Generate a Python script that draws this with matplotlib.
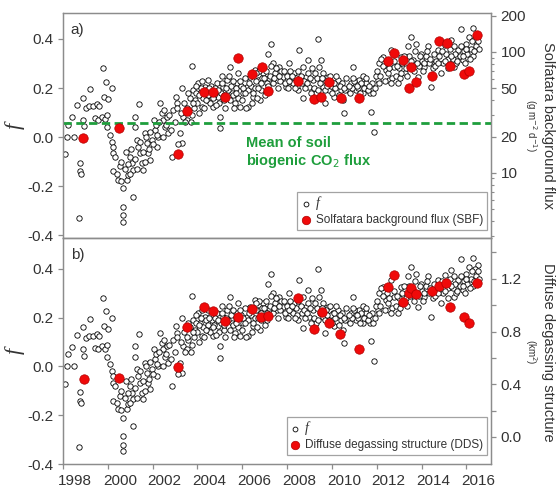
import matplotlib
matplotlib.use("Agg")
import matplotlib.pyplot as plt
from matplotlib.transforms import ScaledTranslation
from matplotlib.ticker import FixedLocator, NullFormatter

plt.rcParams['font.family'] = ['Liberation Sans', 'DejaVu Sans']

# f index (same series in both panels): decimal year, value
f_year = [1998.09, 1998.16, 1998.49, 1998.24, 1998.39, 1998.61, 1998.76, 1998.76, 1998.80, 1998.73,
          1998.88, 1998.90, 1998.95, 1999.03, 1999.18, 1999.20, 1999.35, 1999.53, 1999.62, 1999.43,
          1999.58, 1999.73, 1999.88, 1999.95, 1999.80, 1999.92, 1999.83, 2000.02, 2000.17, 1999.98,
          2000.10, 2000.17, 2000.25, 2000.22, 2000.32, 2000.25, 2000.40, 2000.47, 2000.57, 2000.69,
          2000.66, 2000.66, 2000.66, 2000.84, 2000.92, 2000.99, 2001.07, 2001.14, 2001.14, 2001.21,
          2001.21, 2001.41, 2001.29, 2001.36, 2001.44, 2001.51, 2001.59, 2001.66, 2001.74, 2001.81,
          2001.88, 2001.96, 2002.06, 2002.11, 2002.18, 2002.26, 2002.33, 2002.40, 2002.48, 2002.55,
          2002.63, 2002.70, 2002.85, 2002.93, 2003.04, 2003.07, 2003.30, 2003.22, 2003.30, 2003.37,
          2003.52, 2003.60, 2003.74, 2003.74, 2003.82, 2003.89, 2004.04, 2004.12, 2004.19, 2004.34,
          2004.41, 2004.49, 2004.64, 2004.71, 2004.86, 2004.93, 2005.01, 2005.01, 2005.16, 2005.31,
          2005.46, 2005.53, 2005.68, 2005.75, 2005.83, 2005.90, 2006.05, 2006.20, 2006.27, 2006.35,
          2006.50, 2006.57, 2006.72, 2006.79, 2006.94, 2007.09, 2007.17, 2007.27, 2007.39, 2007.54,
          2007.66, 2007.81, 2007.96, 2008.10, 2008.18, 2008.33, 2008.48, 2008.55, 2008.70, 2008.70,
          2008.85, 2008.92, 2009.00, 2009.15, 2009.30, 2009.37, 2009.44, 2009.52, 2009.59, 2009.67,
          2009.82, 2009.89, 2010.04, 2010.11, 2010.26, 2010.41, 2010.49, 2010.56, 2010.71, 2010.86,
          2010.96, 2011.08, 2011.23, 2011.38, 2011.53, 2011.68, 2011.75, 2011.90, 2012.05, 2012.12,
          2012.27, 2012.42, 2012.57, 2012.64, 2012.79, 2012.94, 2013.09, 2013.24, 2013.39, 2013.54,
          2013.61, 2013.76, 2013.83, 2013.98, 2014.13, 2014.28, 2014.43, 2014.58, 2014.73, 2014.88,
          2015.03, 2015.17, 2015.32, 2015.47, 2015.62, 2015.77, 2015.84, 2015.99, 2016.14, 2016.29,
          2016.44, 2016.51]
f_val = [-0.07, 0.00, 0.00, 0.05, 0.08, 0.13, -0.105, -0.14, -0.15, -0.33,
         0.16, 0.07, 0.045, 0.117, 0.127, 0.195, 0.127, 0.135, 0.127, 0.076,
         0.07, 0.083, 0.073, 0.04, 0.28, 0.226, 0.165, 0.154, 0.20, 0.09,
         0.01, -0.02, -0.04, -0.067, -0.08, -0.14, -0.15, -0.175, -0.18, -0.21,
         -0.285, -0.32, -0.345, -0.175, -0.155, -0.08, -0.107, -0.135, -0.245, 0.083,
         0.04, 0.135, -0.012, -0.04, -0.067, -0.107, -0.135, 0.015, -0.026, -0.067,
         -0.094, -0.012, 0.07, 0.03, -0.04, 0.00, 0.137, 0.097, 0.07, 0.04,
         0.083, 0.015, -0.08, 0.11, 0.165, 0.137, 0.20, 0.015, -0.026, 0.083,
         0.07, 0.11, 0.09, 0.29, 0.19, 0.15, 0.22, 0.178, 0.124, 0.205,
         0.15, 0.233, 0.19, 0.124, 0.22, 0.165, 0.083, 0.035, 0.205, 0.233,
         0.287, 0.178, 0.137, 0.22, 0.26, 0.124, 0.178, 0.205, 0.124, 0.246,
         0.165, 0.273, 0.233, 0.15, 0.26, 0.22, 0.34, 0.38, 0.30, 0.233,
         0.287, 0.246, 0.205, 0.30, 0.226, 0.26, 0.19, 0.355, 0.287, 0.158,
         0.246, 0.314, 0.205, 0.233, 0.178, 0.40, 0.287, 0.314, 0.205, 0.137,
         0.246, 0.19, 0.22, 0.165, 0.233, 0.19, 0.15, 0.097, 0.19, 0.22,
         0.287, 0.19, 0.233, 0.178, 0.22, 0.178, 0.103, 0.022, 0.233, 0.30,
         0.328, 0.273, 0.233, 0.355, 0.287, 0.22, 0.328, 0.26, 0.37, 0.41,
         0.314, 0.38, 0.246, 0.34, 0.287, 0.37, 0.205, 0.30, 0.355, 0.26,
         0.375, 0.32, 0.396, 0.287, 0.355, 0.44, 0.314, 0.38, 0.41, 0.445,
         0.37, 0.416]

f_year_b = [2000.55, 2000.60, 2000.75, 2000.80, 2000.90, 2001.00, 2001.05, 2001.20, 2001.30, 2001.45,
            2001.55, 2001.65, 2001.70, 2001.85, 2001.90, 2002.00, 2002.15, 2002.20, 2002.30, 2002.45,
            2002.50, 2002.60, 2002.75, 2002.80, 2003.00, 2003.10, 2003.15, 2003.25, 2003.40, 2003.45,
            2003.55, 2003.65, 2003.70, 2003.85, 2003.95, 2004.00, 2004.05, 2004.15, 2004.25, 2004.30,
            2004.40, 2004.45, 2004.55, 2004.60, 2004.75, 2004.80, 2004.95, 2005.05, 2005.10, 2005.20,
            2005.25, 2005.35, 2005.40, 2005.50, 2005.60, 2005.65, 2005.70, 2005.80, 2005.95, 2006.00,
            2006.10, 2006.15, 2006.25, 2006.40, 2006.45, 2006.55, 2006.60, 2006.65, 2006.75, 2006.85,
            2006.90, 2007.00, 2007.05, 2007.15, 2007.20, 2007.30, 2007.35, 2007.45, 2007.60, 2007.70,
            2007.75, 2007.90, 2008.00, 2008.05, 2008.15, 2008.25, 2008.40, 2008.45, 2008.60, 2008.65,
            2008.80, 2008.95, 2009.05, 2009.10, 2009.20, 2009.35, 2009.45, 2009.60, 2009.70, 2009.75,
            2009.95, 2010.00, 2010.15, 2010.20, 2010.30, 2010.45, 2010.60, 2010.65, 2010.80, 2010.90,
            2011.00, 2011.15, 2011.30, 2011.40, 2011.45, 2011.60, 2011.80, 2011.85, 2011.95, 2012.00,
            2012.15, 2012.20, 2012.35, 2012.45, 2012.50, 2012.70, 2012.75, 2012.85, 2013.00, 2013.05,
            2013.15, 2013.30, 2013.45, 2013.50, 2013.65, 2013.70, 2013.90, 2014.00, 2014.05, 2014.20,
            2014.35, 2014.50, 2014.55, 2014.65, 2014.80, 2014.95, 2015.10, 2015.20, 2015.25, 2015.40,
            2015.50, 2015.55, 2015.70, 2015.90, 2015.95, 2016.05, 2016.20, 2016.30, 2016.40, 2016.55]
f_val_b = [-0.12, -0.10, -0.13, -0.06, -0.11, -0.15, -0.05, -0.09, -0.13, -0.02,
           -0.06, -0.10, 0.00, -0.05, 0.02, -0.03, 0.05, 0.01, 0.06, 0.00,
           0.11, 0.05, 0.09, 0.03, 0.06, 0.12, -0.03, 0.10, 0.14, 0.06,
           0.12, 0.16, 0.06, 0.12, 0.18, 0.14, 0.10, 0.20, 0.16, 0.12,
           0.19, 0.17, 0.14, 0.21, 0.17, 0.20, 0.14, 0.18, 0.22, 0.15,
           0.12, 0.19, 0.25, 0.21, 0.17, 0.12, 0.20, 0.16, 0.21, 0.15,
           0.24, 0.12, 0.19, 0.21, 0.14, 0.20, 0.23, 0.16, 0.27, 0.19,
           0.24, 0.17, 0.27, 0.21, 0.24, 0.29, 0.22, 0.26, 0.20, 0.23,
           0.27, 0.22, 0.25, 0.20, 0.27, 0.22, 0.24, 0.21, 0.25, 0.22,
           0.20, 0.26, 0.18, 0.28, 0.20, 0.24, 0.22, 0.26, 0.19, 0.23,
           0.21, 0.18, 0.20, 0.25, 0.17, 0.22, 0.19, 0.24, 0.18, 0.20,
           0.23, 0.20, 0.22, 0.25, 0.20, 0.19, 0.22, 0.18, 0.25, 0.27,
           0.25, 0.32, 0.23, 0.30, 0.26, 0.24, 0.31, 0.25, 0.28, 0.24,
           0.30, 0.28, 0.33, 0.29, 0.27, 0.35, 0.29, 0.31, 0.27, 0.33,
           0.30, 0.28, 0.34, 0.31, 0.33, 0.30, 0.34, 0.28, 0.36, 0.32,
           0.34, 0.30, 0.33, 0.35, 0.30, 0.34, 0.36, 0.33, 0.40, 0.36]

f_year_c = [2003.58, 2003.78, 2003.92, 2004.08, 2004.22, 2004.36, 2004.52, 2004.68, 2004.82, 2004.90,
            2005.08, 2005.18, 2005.28, 2005.45, 2005.58, 2005.72, 2005.88, 2006.02, 2006.12, 2006.32,
            2006.48, 2006.62, 2006.70, 2006.82, 2006.98, 2007.10, 2007.25, 2007.40, 2007.50, 2007.65,
            2007.85, 2008.08, 2008.20, 2008.35, 2008.50, 2008.75, 2008.88, 2009.02, 2009.25, 2009.40,
            2009.55, 2009.78, 2009.92, 2010.08, 2010.35, 2010.52, 2010.75, 2010.95, 2011.10, 2011.25,
            2011.50, 2011.65, 2011.92, 2012.10, 2012.30, 2012.55, 2012.65, 2012.90, 2013.10, 2013.20,
            2013.35, 2013.55, 2013.80, 2013.95, 2014.10, 2014.25, 2014.40, 2014.60, 2014.75, 2014.90,
            2015.05, 2015.30, 2015.45, 2015.60, 2015.75, 2015.85, 2016.00, 2016.15, 2016.25, 2016.35,
            2016.50]
f_val_c = [0.18, 0.14, 0.21, 0.17, 0.23, 0.15, 0.20, 0.16, 0.13, 0.19,
           0.25, 0.17, 0.20, 0.15, 0.23, 0.18, 0.23, 0.20, 0.18, 0.22,
           0.18, 0.26, 0.20, 0.22, 0.24, 0.19, 0.25, 0.24, 0.28, 0.25,
           0.27, 0.23, 0.25, 0.20, 0.27, 0.23, 0.22, 0.24, 0.26, 0.19,
           0.24, 0.21, 0.25, 0.22, 0.21, 0.20, 0.21, 0.24, 0.21, 0.18,
           0.24, 0.21, 0.20, 0.22, 0.29, 0.28, 0.22, 0.29, 0.26, 0.33,
           0.25, 0.31, 0.30, 0.33, 0.30, 0.35, 0.32, 0.29, 0.30, 0.35,
           0.31, 0.33, 0.37, 0.31, 0.37, 0.33, 0.36, 0.32, 0.39, 0.35,
           0.39]

# Solfatara background flux (g m-2 d-1)
campaign_year = [1998.91, 2000.51, 2003.15, 2003.52, 2004.29, 2004.68, 2005.25, 2005.80, 2006.42, 2006.87,
                 2007.17, 2008.48, 2009.22, 2009.52, 2009.89, 2010.41, 2011.20, 2012.50, 2012.75, 2013.16,
                 2013.51, 2013.42, 2013.76, 2014.46, 2014.76, 2015.13, 2015.25, 2015.89, 2016.11, 2016.48]
sbf = [19.4, 23.6, 14.3, 32.5, 46.5, 46.5, 42.5, 88.7, 65.8, 74.8,
       47.6, 57.5, 40.9, 42.3, 56.9, 41.4, 41.4, 84.4, 98.6, 86.0,
       74.8, 50.7, 56.9, 63.4, 123.0, 118.0, 77.1, 65.8, 70.0, 138.0]

# Diffuse degassing structure area (km2)
dds_year = [1998.94, 2000.51, 2003.15, 2003.52, 2004.29, 2004.68, 2005.25, 2005.80, 2006.42, 2006.84,
            2007.17, 2008.48, 2009.22, 2009.55, 2009.89, 2010.38, 2011.23, 2012.50, 2012.75, 2013.16,
            2013.42, 2013.51, 2013.76, 2014.46, 2014.76, 2015.10, 2015.25, 2015.89, 2016.11, 2016.48]
dds = [0.44, 0.446, 0.534, 0.838, 0.99, 0.957, 0.883, 0.909, 0.972, 0.914,
       0.919, 1.058, 0.818, 0.947, 0.863, 0.782, 0.668, 1.141, 1.23, 1.027,
       1.091, 1.129, 1.083, 1.111, 1.149, 1.167, 0.99, 0.914, 0.863, 1.172]

biogenic_mean = 26.0
years = list(range(1998, 2017, 2))

all_f_year = f_year + f_year_b + f_year_c
all_f_val = f_val + f_val_b + f_val_c

GREY = '#8c8c8c'
TXT = '#333333'
GREEN = '#1e9e3c'
RED = '#f00a0a'
RED_EDGE = '#b00000'

fig = plt.figure(figsize=(5.56, 4.87), dpi=100)
ax1 = fig.add_axes([0.1133, 0.5113, 0.7698, 0.4620])
ax2 = fig.add_axes([0.1133, 0.0472, 0.7698, 0.4641])

def style(ax):
    for s in ax.spines.values():
        s.set_color(GREY)
        s.set_linewidth(0.9)
    ax.tick_params(colors=GREY, labelcolor=TXT, labelsize=11, direction='out', length=3.5, width=0.9)

panels = []
for ax in (ax1, ax2):
    style(ax)
    ax.scatter(all_f_year, all_f_val, s=15, facecolor='white', edgecolor='black', linewidth=0.6,
               zorder=3, label='f')
    ax.set_xlim(1998, 2017.1)
    ax.set_xticks(years)
    ax.set_yticks([-0.4, -0.2, 0.0, 0.2, 0.4])
    ax.set_yticklabels(['-0.4', '-0.2', '0.0', '0.2', '0.4'])
    ax.set_ylabel('f', family='Liberation Serif', fontstyle='italic', fontsize=16, color=TXT)
    ax.yaxis.set_label_coords(-0.09, 0.5)
    axr = ax.twinx()
    style(axr)
    panels.append(axr)

ax1.set_ylim(-0.412, 0.506)
ax2.set_ylim(-0.40, 0.527)
ax1.tick_params(axis='x', bottom=False, labelbottom=False)

offset = ScaledTranslation(12 / 100, 0, fig.dpi_scale_trans)
for lbl in ax2.get_xticklabels():
    lbl.set_transform(lbl.get_transform() + offset)

ax1.text(0.018, 0.955, 'a)', transform=ax1.transAxes, fontsize=11, color=TXT, va='top')
ax2.text(0.018, 0.955, 'b)', transform=ax2.transAxes, fontsize=11, color=TXT, va='top')

# top right axis: SBF (log)
r1 = panels[0]
r1.set_yscale('log')
r1.set_ylim(2.9, 210)
r1.yaxis.set_major_locator(FixedLocator([10, 20, 50, 100, 200]))
r1.set_yticklabels(['10', '20', '50', '100', '200'])
r1.yaxis.set_minor_locator(FixedLocator([3, 4, 5, 6, 7, 8, 9, 30, 40, 60, 70, 80, 90]))
r1.yaxis.set_minor_formatter(NullFormatter())
r1.tick_params(which='minor', length=2.5, width=0.8, colors=GREY)
r1.axhline(biogenic_mean, color=GREEN, lw=2, ls=(0, (3, 1.6)), zorder=2)
r1.scatter(campaign_year, sbf, s=46, facecolor=RED, edgecolor=RED_EDGE, linewidth=0.5, zorder=4,
           label='Solfatara background flux (SBF)')
r1.text(0.427, 0.455, 'Mean of soil\nbiogenic CO$_2$ flux', transform=r1.transAxes, color=GREEN,
        fontsize=10.5, fontweight='bold', va='top', ha='left', linespacing=1.15)

# bottom right axis: DDS
r2 = panels[1]
r2.set_ylim(-0.205, 1.51)
r2.set_yticks([0.0, 0.4, 0.8, 1.2])
r2.set_yticklabels(['0.0', '0.4', '0.8', '1.2'])
r2.yaxis.set_minor_locator(FixedLocator([0.2, 0.6, 1.0, 1.4]))
r2.tick_params(which='minor', length=3.5, width=0.9, colors=GREY)
r2.scatter(dds_year, dds, s=46, facecolor=RED, edgecolor=RED_EDGE, linewidth=0.5, zorder=4,
           label='Diffuse degassing structure (DDS)')

fig.text(0.985, 0.743, 'Solfatara background flux', rotation=270, fontsize=10.5, color=TXT,
         ha='center', va='center')
fig.text(0.955, 0.743, '(g m$^{-2}$ d$^{-1}$)', rotation=270, fontsize=7, color=TXT,
         ha='center', va='center')
fig.text(0.985, 0.277, 'Diffuse degassing structure', rotation=270, fontsize=10.5, color=TXT,
         ha='center', va='center')
fig.text(0.955, 0.277, '(km$^2$)', rotation=270, fontsize=7, color=TXT,
         ha='center', va='center')

for ax, axr, yb in ((ax1, r1, 0.036), (ax2, r2, 0.04)):
    h0, l0 = ax.get_legend_handles_labels()
    h1, l1 = axr.get_legend_handles_labels()
    leg = axr.legend(h0 + h1, l0 + l1, loc='lower right', bbox_to_anchor=(0.991, yb), borderaxespad=0,
                     fontsize=8.5, frameon=True, fancybox=False, edgecolor=GREY, handlelength=0.8,
                     handletextpad=0.4, borderpad=0.35, labelspacing=0.35, markerscale=0.9)
    leg.get_frame().set_linewidth(0.9)
    leg.get_texts()[0].set_fontstyle('italic')
    leg.get_texts()[0].set_family('Liberation Serif')
    leg.get_texts()[0].set_fontsize(10)
    for t in leg.get_texts():
        t.set_color(TXT)

fig.savefig('out.png', dpi=100)
